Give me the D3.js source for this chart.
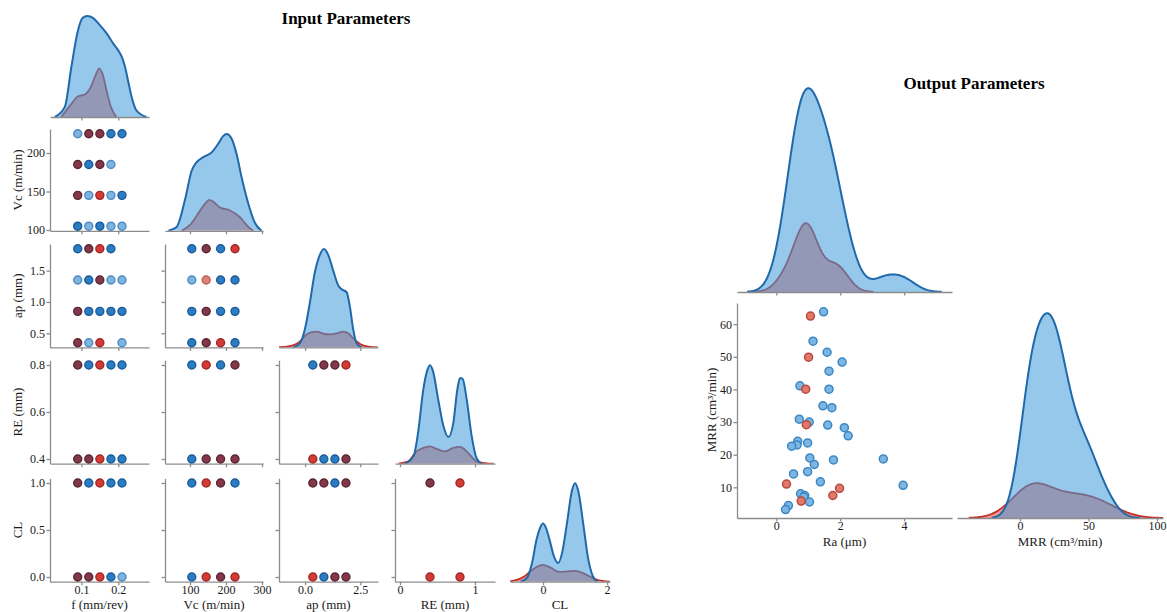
<!DOCTYPE html>
<html><head><meta charset="utf-8">
<script src="https://cdn.jsdelivr.net/npm/d3@7"></script>
<style>
body{margin:0;background:#fff;}
svg{display:block;font-family:"Liberation Serif","Times New Roman",serif;}
.axis path,.axis line{stroke:#8c8c8c;stroke-width:1.3;}
.axis text{font-size:12px;fill:#1a1a1a;font-family:"Liberation Serif","Times New Roman",serif;}
.lbl{font-size:13px;fill:#1a1a1a;font-family:"Liberation Serif","Times New Roman",serif;}
.ttl{font-size:17px;font-weight:bold;fill:#000;font-family:"Liberation Serif","Times New Roman",serif;}
</style></head><body>
<script>
// ---------------- DATA ----------------
const inputVars   = ["f","Vc","ap","RE","CL"];
const inputLabels = ["f (mm/rev)","Vc (m/min)","ap (mm)","RE (mm)","CL"];
const xTickVals = {f:[0.1,0.2], Vc:[100,200,300], ap:[0,2.5], RE:[0,1], CL:[0,2]};
const xTickText = {f:["0.1","0.2"], Vc:["100","200","300"], ap:["0.0","2.5"], RE:["0","1"], CL:["0","2"]};
const yTickVals = {Vc:[100,150,200], ap:[0.5,1.0,1.5], RE:[0.4,0.6,0.8], CL:[0,0.5,1.0]};
const yTickText = {Vc:["100","150","200"], ap:["0.5","1.0","1.5"], RE:["0.4","0.6","0.8"], CL:["0.0","0.5","1.0"]};

// Input scatter panels: [x, y, group]; lb=light blue, b=blue, r=red, m=mixed (maroon), lr=light red
const pts_Vc_f = [[0.09,225,'lb'],[0.12,225,'m'],[0.15,225,'m'],[0.18,225,'b'],[0.21,225,'b'],
  [0.09,185,'m'],[0.12,185,'b'],[0.15,185,'m'],[0.18,185,'lb'],
  [0.09,145,'m'],[0.12,145,'lb'],[0.15,145,'r'],[0.18,145,'lb'],[0.21,145,'b'],
  [0.09,105,'b'],[0.12,105,'lb'],[0.15,105,'b'],[0.18,105,'lb'],[0.21,105,'lb']];
const pts_ap_f = [[0.09,1.85,'b'],[0.12,1.85,'m'],[0.15,1.85,'r'],[0.18,1.85,'b'],
  [0.09,1.35,'lb'],[0.12,1.35,'b'],[0.15,1.35,'m'],[0.18,1.35,'lb'],[0.21,1.35,'lb'],
  [0.09,0.85,'m'],[0.12,0.85,'b'],[0.15,0.85,'b'],[0.18,0.85,'b'],[0.21,0.85,'b'],
  [0.09,0.35,'m'],[0.12,0.35,'lb'],[0.15,0.35,'r'],[0.21,0.35,'lb']];
const pts_ap_Vc = [[105,1.85,'b'],[145,1.85,'m'],[185,1.85,'b'],[225,1.85,'r'],
  [105,1.35,'lb'],[145,1.35,'lr'],[185,1.35,'b'],[225,1.35,'b'],
  [105,0.85,'b'],[145,0.85,'m'],[185,0.85,'b'],[225,0.85,'b'],
  [105,0.35,'b'],[145,0.35,'m'],[185,0.35,'r'],[225,0.35,'b']];
const pts_RE_f = [[0.09,0.8,'m'],[0.12,0.8,'b'],[0.15,0.8,'r'],[0.18,0.8,'b'],[0.21,0.8,'b'],
  [0.09,0.4,'m'],[0.12,0.4,'m'],[0.15,0.4,'r'],[0.18,0.4,'b'],[0.21,0.4,'b']];
const pts_RE_Vc = [[105,0.8,'b'],[145,0.8,'r'],[185,0.8,'b'],[225,0.8,'m'],
  [105,0.4,'b'],[145,0.4,'m'],[185,0.4,'m'],[225,0.4,'m']];
const pts_RE_ap = [[0.35,0.8,'b'],[0.85,0.8,'m'],[1.35,0.8,'m'],[1.85,0.8,'r'],
  [0.35,0.4,'r'],[0.85,0.4,'b'],[1.35,0.4,'b'],[1.85,0.4,'m']];
const pts_CL_f = [[0.09,1,'m'],[0.12,1,'b'],[0.15,1,'r'],[0.18,1,'b'],[0.21,1,'b'],
  [0.09,0,'m'],[0.12,0,'m'],[0.15,0,'r'],[0.18,0,'b'],[0.21,0,'lb']];
const pts_CL_Vc = [[105,1,'b'],[145,1,'r'],[185,1,'m'],[225,1,'b'],
  [105,0,'b'],[145,0,'r'],[185,0,'m'],[225,0,'r']];
const pts_CL_ap = [[0.35,1,'m'],[0.85,1,'m'],[1.35,1,'b'],[1.85,1,'m'],
  [0.35,0,'r'],[0.85,0,'b'],[1.35,0,'m'],[1.85,0,'m']];
const pts_CL_RE = [[0.4,1,'m'],[0.8,1,'r'],[0.4,0,'r'],[0.8,0,'r']];

// Input diagonal density curves (relative to blue peak)
const kde_f_blueX = [0.028,0.055,0.073,0.089,0.103,0.116,0.132,0.15,0.168,0.186,0.2,0.209,0.218,0.227,0.236,0.249,0.276];
const kde_f_blueY = [0,0.1,0.5,0.83,0.98,1.0,0.98,0.91,0.83,0.73,0.66,0.6,0.5,0.35,0.2,0.066,0];
const kde_f_redX  = [0.045,0.073,0.091,0.11,0.123,0.137,0.148,0.157,0.168,0.18,0.195];
const kde_f_redY  = [0,0.13,0.205,0.225,0.28,0.4,0.48,0.43,0.265,0.1,0];
const kde_Vc_blueX = [39.8,63,86.1,104.6,118.5,137,160.2,178.7,192.6,201.9,215.7,229.6,243.5,262,280.6,299];
const kde_Vc_blueY = [0,0.04,0.32,0.62,0.71,0.76,0.81,0.9,0.98,1.0,0.95,0.79,0.55,0.28,0.08,0];
const kde_Vc_redX  = [76.9,100,123.1,141.7,153.7,164.8,183.3,211.1,238.9,262,275.9];
const kde_Vc_redY  = [0,0.06,0.18,0.28,0.32,0.3,0.24,0.21,0.14,0.04,0];
const kde_ap_blueX = [-0.544,-0.24,-0.014,0.214,0.44,0.668,0.85,1.047,1.274,1.5,1.653,1.88,2.03,2.18,2.335,2.56];
const kde_ap_blueY = [0,0.04,0.18,0.45,0.76,0.94,1.0,0.94,0.78,0.63,0.59,0.56,0.41,0.18,0.04,0];
const kde_ap_redX  = [-1.3,-0.695,-0.24,-0.014,0.214,0.517,0.895,1.12,1.426,1.73,1.956,2.18,2.486,2.865,3.32];
const kde_ap_redY  = [0,0.014,0.058,0.116,0.15,0.16,0.136,0.133,0.143,0.16,0.143,0.092,0.034,0.007,0];
const kde_RE_blueX = [0.067,0.18,0.24,0.31,0.364,0.4,0.44,0.51,0.58,0.644,0.71,0.764,0.8,0.836,0.89,0.956,1.02,1.09];
const kde_RE_blueY = [0,0.075,0.31,0.75,0.95,1.0,0.94,0.65,0.38,0.27,0.41,0.75,0.87,0.86,0.65,0.28,0.058,0];
const kde_RE_redX  = [-0.02,0.11,0.22,0.31,0.4,0.49,0.6,0.71,0.8,0.89,1.02,1.16,1.25];
const kde_RE_redY  = [0,0.024,0.125,0.16,0.176,0.15,0.125,0.16,0.17,0.125,0.024,0.003,0];
const kde_CL_blueX = [-0.7,-0.5,-0.35,-0.2,-0.1,0,0.1,0.2,0.35,0.47,0.6,0.75,0.9,1.0,1.1,1.25,1.4,1.55,1.7];
const kde_CL_blueY = [0,0.04,0.18,0.43,0.54,0.59,0.54,0.43,0.25,0.19,0.3,0.6,0.92,1.0,0.92,0.6,0.25,0.06,0];
const kde_CL_redX  = [-1.2,-0.9,-0.6,-0.3,0,0.25,0.5,0.75,1.0,1.3,1.6,1.9,2.1];
const kde_CL_redY  = [0,0.01,0.05,0.13,0.17,0.14,0.1,0.105,0.11,0.08,0.03,0.005,0];

// Output data (Ra, MRR) per class
const raBlue  = [1.48,1.15,1.59,2.06,1.65,1.65,0.74,1.46,1.74,0.72,1.03,1.61,2.13,2.25,0.67,0.65,0.48,0.98,1.05,1.79,3.35,1.19,0.98,0.54,1.38,3.97,0.76,0.89,0.86,1.04,0.38,0.29];
const mrrBlue = [63.8,54.8,51.4,48.4,45.6,40.1,41.1,35.0,34.4,30.9,30.0,29.1,28.3,25.8,24.1,23.0,22.6,23.6,19.0,18.4,18.7,17.0,14.8,14.1,11.7,10.6,8.0,7.5,7.0,5.5,4.4,3.2];
const raRed   = [1.07,1.01,0.92,0.94,0.32,1.98,1.77,0.78];
const mrrRed  = [62.5,49.9,40.1,29.2,11.0,9.7,7.5,5.8];
const raTicks = [0,2,4];
const mrrTicks = [10,20,30,40,50,60];
const mrrXTicks = [0,50,100];

// ---------------- LAYOUT / STYLE ----------------
const colX = {f:[50,149], Vc:[165,263], ap:[279,378], RE:[395,495], CL:[510,610]};
const xDom = {f:[0.0149,0.2832], Vc:[30.6,302.8], ap:[-1.18,3.3], RE:[-0.067,1.267], CL:[-1.03,2.09]};
const rowY = {f:[117,11], Vc:[230.8,129.1], ap:[347.4,244], RE:[463.7,360.3], CL:[581.7,478.3]};
const yDom = {Vc:[99,231], ap:[0.275,1.925], RE:[0.38,0.82], CL:[-0.05,1.05]};
const dotStyle = {
  lb:{fill:"#7fb4df",stroke:"#4b8bc6"},
  b:{fill:"#2c7cc2",stroke:"#1a5c9c"},
  r:{fill:"#d43b35",stroke:"#a02828"},
  m:{fill:"#83384a",stroke:"#5a2634"},
  lr:{fill:"#df8276",stroke:"#bf5e56"}
};
const C = {blueLine:"#1f69ab", blueFill:"rgba(64,155,219,0.55)", redLine:"#c23028", redFill:"#f8948a",
  outBlueFill:"#7db6e3", outBlueStroke:"#3a87c4", outRedFill:"#e0796a", outRedStroke:"#b94a3e"};

const W=1167,H=612;
const svg=d3.select("body").append("svg").attr("width",W).attr("height",H);
const defs=svg.append("defs");
let clipN=0;
function clipRect(x0,x1,y0,y1){
  const id="clip"+(clipN++);
  defs.append("clipPath").attr("id",id).append("rect").attr("x",x0).attr("y",y0).attr("width",x1-x0).attr("height",y1-y0);
  return "url(#"+id+")";
}

const xs={}, ys={};
inputVars.forEach(v=>{ xs[v]=d3.scaleLinear().domain(xDom[v]).range(colX[v]); });
inputVars.slice(1).forEach(v=>{ ys[v]=d3.scaleLinear().domain(yDom[v]).range(rowY[v]); });

function axisBottom(sc, vals, texts, y, showLabels){
  const a=d3.axisBottom(sc).tickValues(vals).tickSize(3.5).tickSizeOuter(0).tickPadding(0)
    .tickFormat((d,i)=> showLabels? texts[i] : "");
  svg.append("g").attr("class","axis").attr("transform",`translate(0,${y})`).call(a);
}
function axisLeft(sc, vals, texts, x, showLabels){
  const a=d3.axisLeft(sc).tickValues(vals).tickSize(3.5).tickSizeOuter(0).tickPadding(1.5)
    .tickFormat((d,i)=> showLabels? texts[i] : "");
  svg.append("g").attr("class","axis").attr("transform",`translate(${x},0)`).call(a);
}

function drawDensity(xSc, ySc, bx, by, rx, ry, clip, smooth){
  const g=svg.append("g").attr("clip-path",clip);
  const curve = smooth || d3.curveMonotoneX;
  const area=d3.area().x(d=>xSc(d[0])).y0(ySc(0)).y1(d=>ySc(d[1])).curve(curve);
  const line=d3.line().x(d=>xSc(d[0])).y(d=>ySc(d[1])).curve(curve);
  const red=rx.map((x,i)=>[x,ry[i]]), blue=bx.map((x,i)=>[x,by[i]]);
  g.append("path").datum(red).attr("d",area).attr("fill",C.redFill);
  g.append("path").datum(red).attr("d",line).attr("fill","none").attr("stroke",C.redLine).attr("stroke-width",1.8);
  g.append("path").datum(blue).attr("d",area).attr("fill",C.blueFill);
  g.append("path").datum(blue).attr("d",line).attr("fill","none").attr("stroke",C.blueLine).attr("stroke-width",2);
}

// ---------------- INPUT PAIRPLOT ----------------
const diagData = {
  f:[kde_f_blueX,kde_f_blueY,kde_f_redX,kde_f_redY],
  Vc:[kde_Vc_blueX,kde_Vc_blueY,kde_Vc_redX,kde_Vc_redY],
  ap:[kde_ap_blueX,kde_ap_blueY,kde_ap_redX,kde_ap_redY],
  RE:[kde_RE_blueX,kde_RE_blueY,kde_RE_redX,kde_RE_redY],
  CL:[kde_CL_blueX,kde_CL_blueY,kde_CL_redX,kde_CL_redY]
};
const scatterData = {
  "Vc|f":pts_Vc_f, "ap|f":pts_ap_f, "ap|Vc":pts_ap_Vc, "RE|f":pts_RE_f, "RE|Vc":pts_RE_Vc,
  "RE|ap":pts_RE_ap, "CL|f":pts_CL_f, "CL|Vc":pts_CL_Vc, "CL|ap":pts_CL_ap, "CL|RE":pts_CL_RE
};

inputVars.forEach((rv,i)=>{
  inputVars.forEach((cv,j)=>{
    if(j>i) return;
    const isBottom = i===inputVars.length-1;
    const [yb,yt]=rowY[rv];
    if(i===j){
      const ySc=d3.scaleLinear().domain([0,1.05]).range([yb,yt]);
      const d=diagData[rv];
      drawDensity(xs[cv], ySc, d[0], d[1], d[2], d[3], clipRect(colX[cv][0],colX[cv][1],yt-5,yb));
      axisBottom(xs[cv], xTickVals[cv], xTickText[cv], yb, isBottom);
    } else {
      axisBottom(xs[cv], xTickVals[cv], xTickText[cv], yb, isBottom);
      axisLeft(ys[rv], yTickVals[rv], yTickText[rv], colX[cv][0], j===0);
      const pts=scatterData[rv+"|"+cv];
      svg.append("g").selectAll("circle").data(pts).join("circle")
        .attr("cx",d=>xs[cv](d[0])).attr("cy",d=>ys[rv](d[1])).attr("r",4)
        .attr("fill",d=>dotStyle[d[2]].fill).attr("stroke",d=>dotStyle[d[2]].stroke).attr("stroke-width",1.4);
    }
  });
});
// axis labels
inputVars.forEach((v,j)=>{
  svg.append("text").attr("class","lbl").attr("text-anchor","middle")
    .attr("x",(colX[v][0]+colX[v][1])/2).attr("y",608.5).text(inputLabels[j]);
  if(j>0){
    const cy=(rowY[v][0]+rowY[v][1])/2;
    svg.append("text").attr("class","lbl").attr("text-anchor","middle").attr("dy","0.35em")
      .attr("transform",`translate(17,${cy}) rotate(-90)`).text(inputLabels[j]);
  }
});
svg.append("text").attr("class","ttl").attr("text-anchor","middle").attr("x",346).attr("y",24).text("Input Parameters");

// ---------------- OUTPUT PAIRPLOT ----------------
const NTOT = raBlue.length + raRed.length;
function kde(data){
  const n=data.length, sd=d3.deviation(data), bw=sd*Math.pow(n,-0.2);
  const lo=d3.min(data)-3*bw, hi=d3.max(data)+3*bw;
  const gx=d3.range(200).map(k=>lo+(hi-lo)*k/199);
  const gy=gx.map(x=> d3.sum(data,v=>Math.exp(-0.5*((x-v)/bw)**2))/(n*bw*Math.sqrt(2*Math.PI))*n/NTOT);
  return [gx,gy];
}
const raX=d3.scaleLinear().domain([-1.23,5.5]).range([737,952]);
const mrrY=d3.scaleLinear().domain([0.6,66.5]).range([518,303]);
const mrrX=d3.scaleLinear().domain([-46,104.4]).range([957,1163]);

// Ra density
{
  const [bx,by]=kde(raBlue), [rx,ry]=kde(raRed);
  const m=Math.max(d3.max(by),d3.max(ry));
  const ySc=d3.scaleLinear().domain([0,m*1.05]).range([292,78]);
  drawDensity(raX,ySc,bx,by,rx,ry,clipRect(737,952,70,292),d3.curveLinear);
  axisBottom(raX,raTicks,raTicks.map(String),292,false);
}
// scatter
axisBottom(raX,raTicks,raTicks.map(String),518,true);
axisLeft(mrrY,mrrTicks,mrrTicks.map(String),737,true);
svg.append("g").selectAll("circle").data(raBlue.map((r,i)=>[r,mrrBlue[i]])).join("circle")
  .attr("cx",d=>raX(d[0])).attr("cy",d=>mrrY(d[1])).attr("r",4)
  .attr("fill",C.outBlueFill).attr("stroke",C.outBlueStroke).attr("stroke-width",1.5);
svg.append("g").selectAll("circle").data(raRed.map((r,i)=>[r,mrrRed[i]])).join("circle")
  .attr("cx",d=>raX(d[0])).attr("cy",d=>mrrY(d[1])).attr("r",4)
  .attr("fill",C.outRedFill).attr("stroke",C.outRedStroke).attr("stroke-width",1.5);
// MRR density
{
  const [bx,by]=kde(mrrBlue), [rx,ry]=kde(mrrRed);
  const m=Math.max(d3.max(by),d3.max(ry));
  const ySc=d3.scaleLinear().domain([0,m*1.05]).range([518,303]);
  drawDensity(mrrX,ySc,bx,by,rx,ry,clipRect(957,1163,295,518),d3.curveLinear);
  axisBottom(mrrX,mrrXTicks,mrrXTicks.map(String),518,true);
}
svg.append("text").attr("class","lbl").attr("text-anchor","middle").attr("x",844.5).attr("y",546).text("Ra (μm)");
svg.append("text").attr("class","lbl").attr("text-anchor","middle").attr("x",1060).attr("y",546).text("MRR (cm³/min)");
svg.append("text").attr("class","lbl").attr("text-anchor","middle").attr("dy","0.35em")
  .attr("transform","translate(711,410) rotate(-90)").text("MRR (cm³/min)");
svg.append("text").attr("class","ttl").attr("text-anchor","middle").attr("x",974).attr("y",89).text("Output Parameters");
</script>
</body></html>
